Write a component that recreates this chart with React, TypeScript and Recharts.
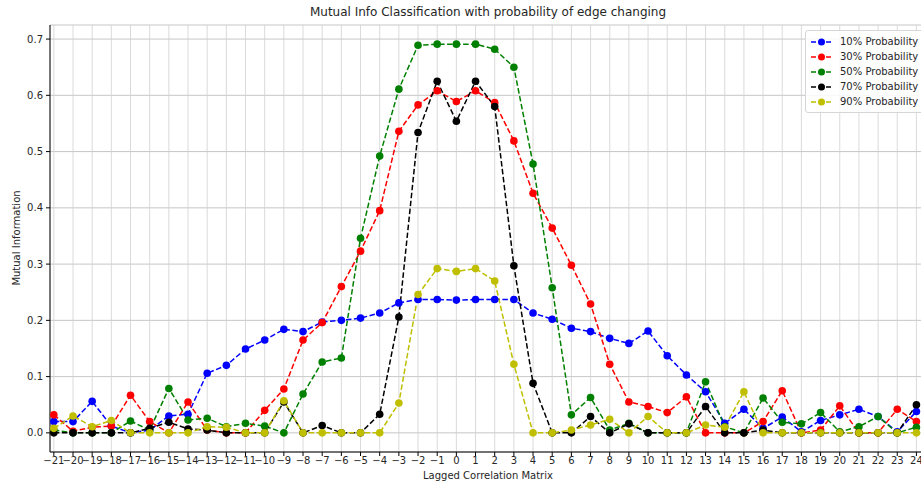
import { LineChart, Line, XAxis, YAxis, CartesianGrid, Legend } from 'recharts'

// lag offsets along the x axis
const lags = [
  -21, -20, -19, -18, -17, -16, -15, -14, -13, -12, -11, -10, -9, -8, -7, -6,
  -5, -4, -3, -2, -1, 0, 1, 2, 3, 4, 5, 6, 7, 8, 9, 10, 11, 12, 13, 14, 15, 16,
  17, 18, 19, 20, 21, 22, 23, 24,
]

const p10 = [
  0.020, 0.020, 0.056, 0.012, 0.0, 0.005, 0.030, 0.033, 0.106, 0.120, 0.149, 0.165, 0.184, 0.180, 0.197, 0.200,
  0.204, 0.213, 0.231, 0.237, 0.237, 0.236, 0.237, 0.237, 0.237, 0.213, 0.202, 0.186, 0.180, 0.168, 0.159, 0.181,
  0.137, 0.103, 0.073, 0.017, 0.042, 0.008, 0.028, 0.002, 0.022, 0.032, 0.042, 0.029, 0.002, 0.038,
]
const p30 = [
  0.032, 0.003, 0.010, 0.012, 0.067, 0.020, 0.0, 0.055, 0.005, 0.0, 0.0, 0.040, 0.078, 0.165, 0.196, 0.260,
  0.323, 0.395, 0.536, 0.583, 0.608, 0.589, 0.608, 0.587, 0.519, 0.426, 0.364, 0.298, 0.229, 0.122, 0.055, 0.047,
  0.036, 0.064, 0.0, 0.0, 0.0, 0.020, 0.075, 0.0, 0.005, 0.048, 0.0, 0.0, 0.042, 0.020,
]
const p50 = [
  0.005, 0.0, 0.0, 0.0, 0.021, 0.005, 0.079, 0.023, 0.026, 0.011, 0.017, 0.012, 0.0, 0.069, 0.126, 0.133,
  0.346, 0.492, 0.611, 0.689, 0.691, 0.691, 0.691, 0.682, 0.650, 0.478, 0.258, 0.032, 0.063, 0.005, 0.017, 0.0,
  0.0, 0.0, 0.091, 0.011, 0.0, 0.062, 0.019, 0.016, 0.036, 0.002, 0.011, 0.029, 0.0, 0.010,
]
const p70 = [
  0.0, 0.0, 0.0, 0.0, 0.0, 0.008, 0.019, 0.007, 0.005, 0.0, 0.0, 0.0, 0.055, 0.0, 0.013, 0.0,
  0.0, 0.033, 0.206, 0.534, 0.625, 0.554, 0.625, 0.580, 0.297, 0.088, 0.0, 0.0, 0.029, 0.0, 0.016, 0.0,
  0.0, 0.0, 0.047, 0.0, 0.0, 0.005, 0.0, 0.0, 0.0, 0.0, 0.0, 0.0, 0.0, 0.050,
]
const p90 = [
  0.008, 0.030, 0.011, 0.022, 0.0, 0.0, 0.0, 0.0, 0.011, 0.010, 0.0, 0.0, 0.057, 0.0, 0.0, 0.0,
  0.0, 0.0, 0.053, 0.246, 0.292, 0.287, 0.292, 0.270, 0.122, 0.0, 0.0, 0.005, 0.014, 0.024, 0.0, 0.029,
  0.0, 0.0, 0.014, 0.010, 0.073, 0.0, 0.0, 0.0, 0.0, 0.0, 0.0, 0.0, 0.0, 0.0,
]

const yTicks = [0, 0.1, 0.2, 0.3, 0.4, 0.5, 0.6, 0.7]

const series = [
  { key: 'p10', name: '10% Probability', color: '#0000ff' },
  { key: 'p30', name: '30% Probability', color: '#ff0000' },
  { key: 'p50', name: '50% Probability', color: '#008000' },
  { key: 'p70', name: '70% Probability', color: '#000000' },
  { key: 'p90', name: '90% Probability', color: '#bfbf00' },
]

const data = lags.map((lag, i) => ({
  lag,
  p10: p10[i],
  p30: p30[i],
  p50: p50[i],
  p70: p70[i],
  p90: p90[i],
}))

const font = '"DejaVu Sans", sans-serif'
const tickStyle = { fontSize: 10, fill: '#262626', fontFamily: font }

const fmtLag = (v: number) => String(v).replace('-', '\u2212')

function LegendBox() {
  return (
    <div
      style={{
        position: 'absolute',
        left: 805,
        top: 30,
        width: 140,
        padding: '3px 0 3px 0',
        background: 'rgba(255,255,255,0.85)',
        border: '1px solid #d6d6d6',
        borderRadius: 3,
        fontFamily: font,
        fontSize: 10,
        color: '#262626',
      }}
    >
      {series.map(s => (
        <div key={s.key} style={{ display: 'flex', alignItems: 'center', height: 15 }}>
          <svg width={34} height={10} style={{ flex: 'none' }}>
            <line x1={5} y1={5} x2={26} y2={5} stroke={s.color} strokeWidth={1.5} strokeDasharray="5 2.5" />
            <circle cx={15.5} cy={5} r={3.5} fill={s.color} />
          </svg>
          <span>{s.name}</span>
        </div>
      ))}
    </div>
  )
}

export default function App() {
  return (
    <div
      style={{
        position: 'fixed',
        left: 0,
        top: 0,
        width: 921,
        height: 485,
        overflow: 'hidden',
        background: '#fff',
      }}
    >
      <div
        style={{
          position: 'absolute',
          left: 0,
          width: 976,
          top: 5,
          textAlign: 'center',
          fontFamily: font,
          fontSize: 12,
          color: '#262626',
        }}
      >
        Mutual Info Classification with probability of edge changing
      </div>
      <div
        style={{
          position: 'absolute',
          left: 0,
          width: 976,
          top: 470,
          textAlign: 'center',
          fontFamily: font,
          fontSize: 10,
          color: '#262626',
        }}
      >
        Lagged Correlation Matrix
      </div>
      <div
        style={{
          position: 'absolute',
          left: 16,
          top: 238,
          transform: 'translate(-50%, -50%) rotate(-90deg)',
          whiteSpace: 'nowrap',
          fontFamily: font,
          fontSize: 10,
          color: '#262626',
        }}
      >
        Mutual Information
      </div>
      <LineChart
        width={960}
        height={485}
        data={data}
        margin={{ top: 25, right: 34, bottom: 0, left: 0 }}
        style={{ position: 'absolute', left: 0, top: 0 }}
      >
        <CartesianGrid vertical={false} stroke="#b8b8b8" strokeWidth={0.8} />
        <CartesianGrid horizontal={false} stroke="#d0d0d0" strokeWidth={0.8} />
        <XAxis
          dataKey="lag"
          type="number"
          domain={[-21.2, 24.5]}
          ticks={lags}
          interval={0}
          allowDataOverflow
          tickFormatter={fmtLag}
          tick={tickStyle}
          tickSize={4}
          tickMargin={1}
          height={33}
          stroke="#000"
          tickLine={{ stroke: '#000' }}
        />
        <XAxis
          xAxisId="top"
          dataKey="lag"
          type="number"
          orientation="top"
          domain={[-21.2, 24.5]}
          tick={false}
          tickLine={false}
          height={0}
          stroke="#000"
        />
        <YAxis
          type="number"
          domain={[-0.034, 0.725]}
          ticks={yTicks}
          allowDataOverflow
          tickFormatter={(v: number) => v.toFixed(1)}
          tick={tickStyle}
          tickSize={4}
          tickMargin={3}
          width={50}
          stroke="#000"
          tickLine={{ stroke: '#000' }}
        />
        <Legend content={() => <LegendBox />} wrapperStyle={{ position: 'absolute', left: 0, top: 0, width: 0, height: 0 }} />
        {series.map(s => (
          <Line
            key={s.key}
            dataKey={s.key}
            name={s.name}
            stroke={s.color}
            strokeWidth={1.5}
            strokeDasharray="5.5 2.5"
            dot={{ r: 3.8, fill: s.color, stroke: s.color, strokeWidth: 0 }}
            activeDot={false}
            isAnimationActive={false}
            type="linear"
          />
        ))}
      </LineChart>
    </div>
  )
}
